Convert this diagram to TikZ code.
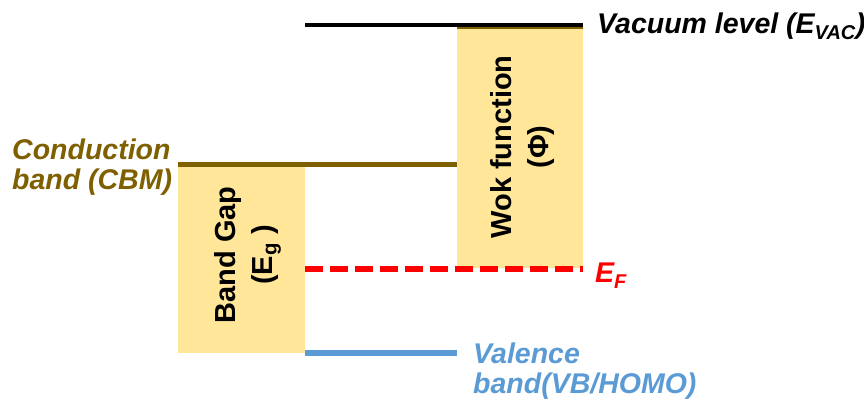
\documentclass[tikz,border=0pt]{standalone}
\usepackage{fontspec}
\setmainfont{Liberation Sans}
\definecolor{cbm}{HTML}{7F6000}
\definecolor{gapfill}{HTML}{FFE699}
\definecolor{vbm}{HTML}{5B9BD5}
\definecolor{efred}{HTML}{FF0000}
\tikzset{
  bandbox/.style={fill=gapfill, inner sep=0pt, anchor=north west},
  level/.style={line width=5pt},
  lbl/.style={inner sep=0pt, font=\fontsize{28.5}{30}\selectfont\bfseries\itshape},
  inlbl/.style={inner sep=0pt, rotate=90, align=center, font=\fontsize{29}{37}\selectfont\bfseries}
}
\begin{document}
\begin{tikzpicture}[x=1pt,y=-1pt]
\useasboundingbox (0,0) rectangle (864,403);
% boxes
\node[bandbox, minimum width=127pt, minimum height=186pt] (gap) at (178,167) {};
\node[bandbox, minimum width=126pt, minimum height=242pt] (wok) at (457,26) {};
% coordinates for levels
\coordinate (vacL) at (305,25);
\coordinate (vacR) at (583,25);
\coordinate (cbL) at (178,164.5);
\coordinate (cbR) at (457,164.5);
\coordinate (efL) at (305,269);
\coordinate (efR) at (583,269);
\coordinate (vbL) at (305,353);
\coordinate (vbR) at (457,353);
% levels
\draw[level, black, line width=4.5pt] (vacL) -- (vacR);
\draw[cbm, line width=2pt] (wok.north west) ++(0,2.5) -- ++(126,0);
\draw[level, cbm] (cbL) -- (cbR);
\draw[level, efred, line width=5.5pt, dash pattern=on 18pt off 7pt] (efL) -- (efR);
\draw[level, vbm, line width=5.5pt] (vbL) -- (vbR);
% inner labels
\node[inlbl] (gaptxt) at (248,255) {Band Gap\\(E\textsubscript{g} )};
\node[inlbl] (woktxt) at (522,147) {Wok function\\(Φ)};
% side labels
\node[lbl, anchor=base west] (vac) at (597,34) {Vacuum level (E\textsubscript{VAC})};
\node[lbl, anchor=base west, text=efred] (ef) at (595,283) {E\textsubscript{F}};
\node[lbl, anchor=north west, align=left, text=cbm] (cb) at (12,139) {Conduction\\band (CBM)};
\node[lbl, anchor=north west, align=left, text=vbm] (vb) at (473,343) {Valence\\band(VB/HOMO)};
\end{tikzpicture}
\end{document}
